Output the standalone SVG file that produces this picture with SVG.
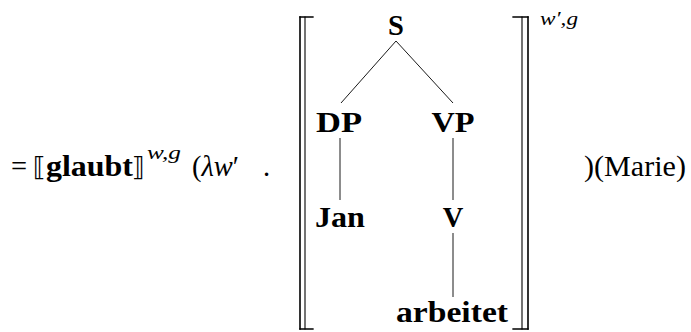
<svg xmlns="http://www.w3.org/2000/svg" width="691" height="332" viewBox="0 0 691 332" font-family="Liberation Serif, serif" font-size="28.5">
<style>
  .b { font-weight: bold; }
  .node { text-anchor: middle; font-weight: bold; }
  .it { font-style: italic; }
  .sup { font-style: italic; font-size: 19.5px; }
  .edge { stroke: #000; stroke-width: 0.9; fill: none; }
  .brk { stroke: #000; fill: none; stroke-linecap: square; }
</style>
<rect width="691" height="332" fill="#fff"/>
<g id="formula-left">
  <text x="11" y="176">=</text>
  <text x="33" y="176" font-family="DejaVu Sans, sans-serif" font-size="26">⟦</text>
  <text class="b" x="46" y="176" textLength="87" lengthAdjust="spacingAndGlyphs">glaubt</text>
  <text x="132" y="176" font-family="DejaVu Sans, sans-serif" font-size="26">⟧</text>
  <text class="sup" x="147" y="159" textLength="34" lengthAdjust="spacingAndGlyphs">w,g</text>
  <text x="192" y="176">(<tspan class="it">λw</tspan>′</text>
  <text x="263" y="176">.</text>
</g>
<g id="bracket-left">
  <path class="brk" stroke-width="1.6" d="M300 17 V329"/>
  <path class="brk" stroke-width="1.1" d="M305 17 V329"/>
  <path class="brk" stroke-width="1.3" d="M300 17 H313 M300 329 H313"/>
</g>
<g id="bracket-right">
  <path class="brk" stroke-width="1.6" d="M528 17 V329"/>
  <path class="brk" stroke-width="1.1" d="M522 17 V329"/>
  <path class="brk" stroke-width="1.3" d="M513 17 H528 M513 329 H528"/>
  <text class="sup" x="540" y="25" textLength="38" lengthAdjust="spacingAndGlyphs">w′,g</text>
</g>
<g id="connectors">
  <line class="edge" x1="396" y1="41" x2="341" y2="103"/>
  <line class="edge" x1="396" y1="41" x2="453" y2="103"/>
  <line class="edge" x1="340" y1="138" x2="340" y2="200"/>
  <line class="edge" x1="453" y1="138" x2="453" y2="200"/>
  <line class="edge" x1="453" y1="233" x2="453" y2="297"/>
</g>
<g id="node-S"><text class="node" x="396" y="35">S</text></g>
<g id="node-DP"><text class="node" x="339" y="132" textLength="46" lengthAdjust="spacingAndGlyphs">DP</text></g>
<g id="node-VP"><text class="node" x="453" y="132" textLength="43" lengthAdjust="spacingAndGlyphs">VP</text></g>
<g id="node-Jan"><text class="node" x="340" y="227" textLength="50" lengthAdjust="spacingAndGlyphs">Jan</text></g>
<g id="node-V"><text class="node" x="453" y="227">V</text></g>
<g id="node-arbeitet"><text class="node" x="452" y="322" textLength="112" lengthAdjust="spacingAndGlyphs">arbeitet</text></g>
<g id="formula-right">
  <text x="584" y="176" textLength="102" lengthAdjust="spacingAndGlyphs">)(Marie)</text>
</g>
</svg>
